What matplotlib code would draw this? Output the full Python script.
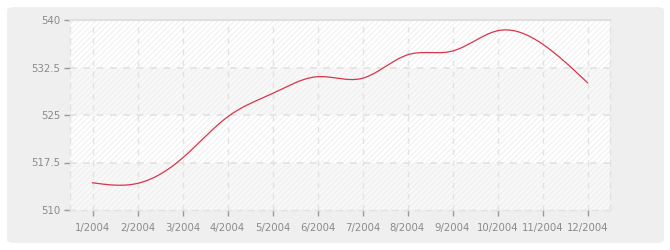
import numpy as np
import matplotlib
matplotlib.use("Agg")
import matplotlib.pyplot as plt
from matplotlib.patches import FancyBboxPatch, Rectangle

months = ["1/2004", "2/2004", "3/2004", "4/2004", "5/2004", "6/2004",
          "7/2004", "8/2004", "9/2004", "10/2004", "11/2004", "12/2004"]
values = [514.3, 514.2, 518.2, 524.7, 528.4, 531.05,
          530.8, 534.5, 535.1, 538.3, 536.2, 530.1]
yticks = [510, 517.5, 525, 532.5, 540]
ytick_labels = ["510", "517.5", "525", "532.5", "540"]

plt.rcParams["font.family"] = ["DejaVu Sans"]


def natural_spline(x, y, n=400):
    x = np.asarray(x, float)
    y = np.asarray(y, float)
    k = len(x)
    h = np.diff(x)
    A = np.zeros((k, k))
    b = np.zeros(k)
    A[0, 0] = A[-1, -1] = 1
    for i in range(1, k - 1):
        A[i, i - 1] = h[i - 1]
        A[i, i] = 2 * (h[i - 1] + h[i])
        A[i, i + 1] = h[i]
        b[i] = 3 * ((y[i + 1] - y[i]) / h[i] - (y[i] - y[i - 1]) / h[i - 1])
    c = np.linalg.solve(A, b)
    xs = np.linspace(x[0], x[-1], n)
    ys = np.empty_like(xs)
    for j, xv in enumerate(xs):
        i = min(np.searchsorted(x, xv, side="right") - 1, k - 2)
        dx = xv - x[i]
        bi = (y[i + 1] - y[i]) / h[i] - h[i] * (2 * c[i] + c[i + 1]) / 3
        di = (c[i + 1] - c[i]) / (3 * h[i])
        ys[j] = y[i] + bi * dx + c[i] * dx ** 2 + di * dx ** 3
    return xs, ys


fig = plt.figure(figsize=(6.7, 2.5), dpi=100)
fig.patch.set_facecolor("white")

W, H = 670, 250
panel = FancyBboxPatch((7 / W, 7 / H), 657 / W, 236 / H,
                       boxstyle="round,pad=0,rounding_size=0.012",
                       transform=fig.transFigure, facecolor="#efefef",
                       edgecolor="none", zorder=-10)
fig.add_artist(panel)

ax = fig.add_axes([70 / W, 40 / H, 540 / W, 190 / H])
ax.set_zorder(1)
ax.set_facecolor("white")
x = np.arange(len(months))
ax.set_xlim(-0.5, len(months) - 0.5)
ax.set_ylim(510, 540)

# alternating bands
for i in range(len(yticks) - 1):
    if i % 2 == 0:
        ax.axhspan(yticks[i], yticks[i + 1], facecolor="#f8f8f8",
                   edgecolor="none", zorder=0)
# hatch overlay
plt.rcParams["hatch.linewidth"] = 0.6
hatch = Rectangle((0, 0), 1, 1, transform=ax.transAxes, facecolor="none",
                  edgecolor="#ececec", linewidth=0, hatch="//////", zorder=0.5)
ax.add_patch(hatch)

# grid
for xv in x:
    ax.axvline(xv, color="#e2e2e2", lw=1, ls=(0, (4, 4)), zorder=1)
for yv in yticks[1:-1]:
    ax.axhline(yv, color="#e2e2e2", lw=1.2, ls=(0, (4, 4)), zorder=1)

xs, ys = natural_spline(x, values)
ax.plot(xs, ys, color="#d9344a", lw=0.9, zorder=3)

for s in ["left", "bottom", "right"]:
    ax.spines[s].set_color("#e2e2e2")
    ax.spines[s].set_linestyle((0, (4, 4)))
    ax.spines[s].set_linewidth(1)
ax.spines["top"].set_color("#e0e0e0")
ax.spines["top"].set_linewidth(1.5)

ax.set_xticks(x)
ax.set_xticklabels(months)
ax.set_yticks(yticks)
ax.set_yticklabels(ytick_labels)
ax.tick_params(axis="both", colors="#999999", labelcolor="#8a8a8a",
               labelsize=7.3, length=4, width=1)
ax.tick_params(axis="x", pad=5)
ax.tick_params(axis="y", pad=3)

fig.savefig("out.png", dpi=100, facecolor="white")
